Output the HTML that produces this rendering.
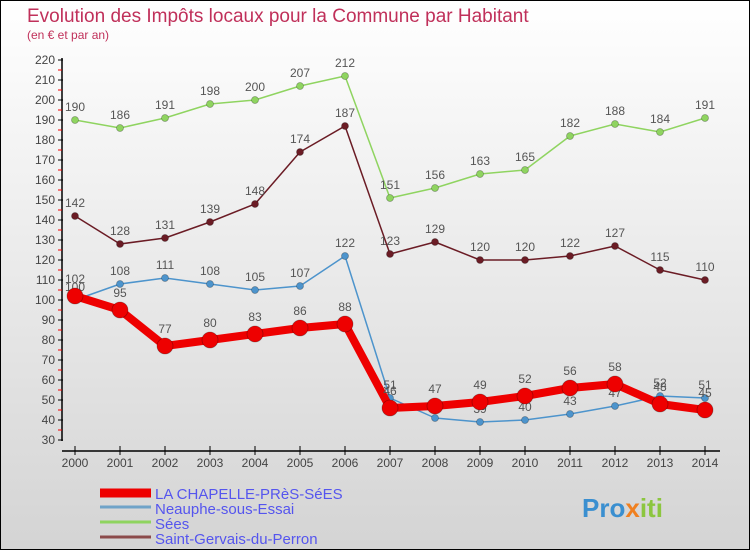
<!DOCTYPE html>
<html><head><meta charset="utf-8"><style>
body{margin:0;}
#wrap{width:748px;height:548px;border:1px solid #000;position:relative;background:linear-gradient(#fff,#d4d4d4);font-family:"Liberation Sans",sans-serif;overflow:hidden}
svg{position:absolute;left:-1px;top:-1px}
</style></head><body>
<div id="wrap">
<svg id="c" width="750" height="550"></svg>
</div>
<script>
const years=[2000,2001,2002,2003,2004,2005,2006,2007,2008,2009,2010,2011,2012,2013,2014];
const chapelle=[102,95,77,80,83,86,88,46,47,49,52,56,58,48,45];
const neauphe=[100,108,111,108,105,107,122,51,41,39,40,43,47,52,51];
const sees=[190,186,191,198,200,207,212,151,156,163,165,182,188,184,191];
const stgervais=[142,128,131,139,148,174,187,123,129,120,120,122,127,115,110];
const yTicks=[30,40,50,60,70,80,90,100,110,120,130,140,150,160,170,180,190,200,210,220];
const legendNames=["LA CHAPELLE-PRèS-SéES","Neauphe-sous-Essai","Sées","Saint-Gervais-du-Perron"];
const X=i=>75+i*45, Y=v=>440-(v-30)*2;
const s=document.getElementById('c'),NS='http://www.w3.org/2000/svg';
function el(t,a,p){const e=document.createElementNS(NS,t);for(const k in a)e.setAttribute(k,a[k]);(p||s).appendChild(e);return e;}
function tx(x,y,str,a){const e=el('text',Object.assign({x:x,y:y,'font-size':12,fill:'#444'},a||{}));e.textContent=str;return e;}
let t=tx(27,22,'Evolution des Impôts locaux pour la Commune par Habitant',{'font-size':19,fill:'#c0305a'});


t=tx(27,39,'(en € et par an)',{'font-size':12,fill:'#c0305a'});


// axes
let a=el('line',{x1:62,y1:58,x2:62,y2:441,stroke:'#000','stroke-width':1.5});


yTicks.forEach(v=>{el('line',{x1:58,x2:63,y1:Y(v),y2:Y(v),stroke:'#000'});if(v<220)el('line',{x1:58,x2:62,y1:Y(v+5),y2:Y(v+5),stroke:'#e00'});
 const l=tx(55,Y(v)+4,String(v),{'text-anchor':'end','font-size':12});
 
 });
a=el('line',{x1:62,y1:451,x2:720,y2:451,stroke:'#000','stroke-width':1.5});


years.forEach((y,i)=>{el('line',{x1:X(i),x2:X(i),y1:446,y2:455,stroke:'#000'});
 const l=tx(X(i),467,String(y),{'text-anchor':'middle','font-size':12});
 
 });
function series(data,color,w,r,name,labelOff){
 const g=el('g',{});
 
 
 el('polyline',{points:data.map((v,i)=>X(i)+','+Y(v)).join(' '),fill:'none',stroke:color,'stroke-width':w,'stroke-linejoin':'round'},g);
 data.forEach((v,i)=>{const c=el('circle',{cx:X(i),cy:Y(v),r:r,fill:color,stroke:'rgba(0,0,0,0.3)','stroke-width':0.8},g);
  
  
  tx(X(i),Y(v)+labelOff,String(v),{'text-anchor':'middle','font-size':12,fill:'#555'});});
}
series(sees,'#8fd460',1.5,3.5,'series-sees',-9);
series(stgervais,'#6b1c25',1.5,3.5,'series-saint-gervais',-9);
series(neauphe,'#4d94cc',1.5,3.5,'series-neauphe',-9);
series(chapelle,'#ee0000',8,8,'series-la-chapelle',-13);
// legend
const lc=['#ee0000','#6fa3c8','#8fd460','#8b4a4a'],lw=[9,3,3,3];
legendNames.forEach((n,i)=>{const y=493+i*15;
 const g=el('g',{});
 
 
 el('line',{x1:100,x2:151,y1:y+(i?-1:0),y2:y+(i?-1:0),stroke:lc[i],'stroke-width':lw[i]},g);
 tx(155,y+6,n,{'font-size':15,fill:'#5555ee'});});
// logo
const lg=tx(582,517,'',{'font-size':26,'font-weight':'bold'});


[['Pro','#3a8fd0'],['x','#f08020'],['iti','#8cc63f']].forEach(p=>{const ts=el('tspan',{fill:p[1]},lg);ts.textContent=p[0];});
</script>
</body></html>
